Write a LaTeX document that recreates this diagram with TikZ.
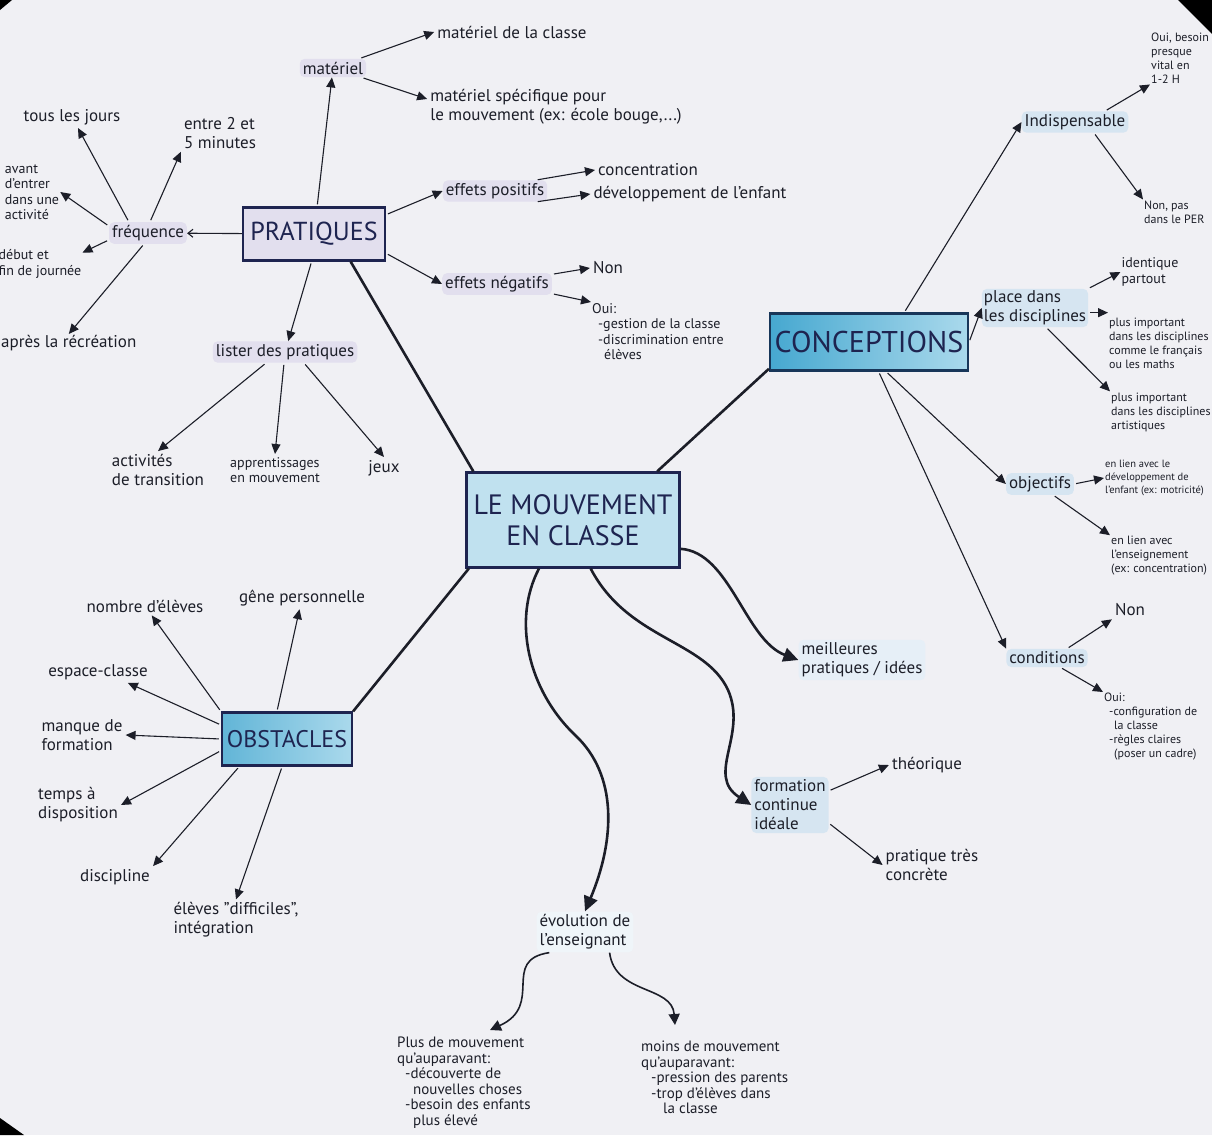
\documentclass[tikz,border=0pt]{standalone}
\usepackage{fontspec}
\setmainfont{PT Sans}
\usetikzlibrary{arrows.meta}

\definecolor{paper}{RGB}{240,240,244}
\definecolor{ink}{RGB}{28,30,40}
\definecolor{navy}{RGB}{30,36,80}
\definecolor{lavender}{RGB}{226,223,238}
\definecolor{skyhl}{RGB}{214,229,241}
\definecolor{boxblue}{RGB}{192,225,239}
\definecolor{tealdark}{RGB}{70,168,208}
\definecolor{teallight}{RGB}{170,217,236}

\begin{document}
\begin{tikzpicture}[x=1pt,y=-1pt,
    every node/.style={font=\fontsize{17}{19}\selectfont, text=ink, align=left, inner sep=3pt},
    topic/.style={draw=navy, line width=2.2pt, text=navy, align=center, inner sep=2pt},
    hl/.style={fill=lavender, rounded corners=5pt},
    hlb/.style={fill=skyhl, rounded corners=5pt},
    small/.style={font=\fontsize{14}{15.5}\selectfont},
    tiny/.style={font=\fontsize{12}{14}\selectfont},
    branch/.style={line width=2.6pt, ink},
    arr/.style={-{Triangle[length=10pt,width=9pt]}, line width=1.1pt, ink, shorten <=2pt},
    openarr/.style={{Straight Barb[length=5pt,width=8pt]}-, line width=1.1pt, ink},
    curly/.style={-{Triangle[length=15pt,width=14pt]}, line width=2.6pt, ink}]

\useasboundingbox (0,0) rectangle (1212,1135);
\fill[paper] (0,0) rectangle (1212,1135);
% photo corners
\fill[black] (0,0) -- (12,0) -- (0,10) -- cycle;
\fill[black] (1178,0) -- (1212,0) -- (1212,34) -- cycle;
\fill[black] (0,1118) -- (0,1135) -- (24,1135) -- cycle;

% main topics
\node[topic, fill=boxblue, minimum width=213pt, minimum height=95pt,
      font=\fontsize{28}{31}\selectfont] (centre) at (573,520) {LE MOUVEMENT\\EN CLASSE};
\node[topic, fill=lavender, minimum width=142pt, minimum height=53pt,
      font=\fontsize{26}{28}\selectfont] (prat) at (314,234) {PRATIQUES};
\node[topic, draw=navy!80!teal, left color=tealdark, right color=teallight,
      minimum width=198pt, minimum height=57pt,
      font=\fontsize{30}{32}\selectfont] (concep) at (869,342) {CONCEPTIONS};
\node[topic, left color=tealdark!85, right color=teallight, minimum width=130pt,
      minimum height=53pt, font=\fontsize{24}{26}\selectfont] (obst) at (287,739) {OBSTACLES};

\draw[branch] (centre.154) -- (prat.-37);
\draw[branch] (centre.30) -- (concep.195);
\draw[branch] (centre.205) -- (obst.north east);

% pratiques
\node[hl] (materiel) at (333,68) {matériel};
\node (matclasse) at (512,32) {matériel de la classe};
\node (matspec) at (556,107) {matériel spécifique pour\\le mouvement (ex: école bouge,...)};
\node[hl] (freq) at (148,233) {fréquence};
\node (tousjours) at (72,117) {tous les jours};
\node (entre) at (220,133) {entre 2 et\\5 minutes};
\node[small, inner sep=1pt] (avant) at (32,192) {avant\\d'entrer\\dans une\\activité};
\node[small, inner sep=1pt] (debut) at (40,264) {début et\\fin de journée};
\node[anchor=west, inner sep=1pt] (apres) at (0,343) {après la récréation};
\node[hl] (effpos) at (495,191) {effets positifs};
\node (concentr) at (648,170) {concentration};
\node (devel) at (690,194) {développement de l'enfant};
\node[hl] (effneg) at (497,284) {effets négatifs};
\node (nonA) at (608,268) {Non};
\node[small, anchor=north west, inner sep=1pt] (ouiA) at (591,302) {Oui:\\\hspace*{6pt}-gestion de la classe\\\hspace*{6pt}-discrimination entre\\\hspace*{12pt}élèves};
\node[hl] (lister) at (285,352) {lister des pratiques};
\node (activ) at (158,470) {activités\\de transition};
\node[small] (apprent) at (275,470) {apprentissages\\en mouvement};
\node (jeux) at (384,468) {jeux};

\draw[arr] (prat) -- (materiel);
\draw[arr] (materiel) -- (matclasse.west);
\draw[arr] (materiel) -- ([yshift=8pt]matspec.west);
\draw[openarr] (freq) -- (prat);
\draw[arr] (freq.150) -- (tousjours);
\draw[arr] (freq.80) -- (entre.south west);
\draw[arr] (freq.170) -- (avant.east);
\draw[arr] (freq.190) -- (debut.15);
\draw[arr] (freq.-110) -- (apres.north);
\draw[arr] (prat.15) -- (effpos.west);
\draw[arr] (effpos.15) -- (concentr.west);
\draw[arr] (effpos.-15) -- (devel.west);
\draw[arr] (prat.-15) -- (effneg.west);
\draw[arr] (effneg.10) -- (nonA.west);
\draw[arr] (effneg.-10) -- (ouiA.north west);
\draw[arr] (prat.-95) -- (lister);
\draw[arr] (lister.-150) -- (activ.north);
\draw[arr] (lister.-95) -- (apprent.north);
\draw[arr] (lister.-30) -- (jeux.north);

% conceptions
\node[hlb] (indisp) at (1075,122) {Indispensable};
\node[tiny, anchor=west, inner sep=1pt] (ouiB) at (1150,58) {Oui, besoin\\presque\\vital en\\1-2 H};
\node[tiny, anchor=west, inner sep=1pt] (nonB) at (1143,212) {Non, pas\\dans le PER};
\node[hlb, inner sep=2pt] (place) at (1035,308) {place dans\\les disciplines};
\node[small, inner sep=1pt] (identique) at (1150,272) {identique\\partout};
\node[tiny, anchor=west, inner sep=1pt] (plusA) at (1108,343) {plus important\\dans les disciplines\\comme le français\\ou les maths};
\node[tiny, anchor=west, inner sep=1pt] (plusB) at (1110,412) {plus important\\dans les disciplines\\artistiques};
\node[hlb] (objectifs) at (1040,484) {objectifs};
\node[anchor=west, inner sep=1pt, font=\fontsize{10.5}{13}\selectfont] (lienA) at (1104,478) {en lien avec le\\développement de\\l'enfant (ex: motricité)};
\node[tiny, anchor=west, inner sep=1pt] (lienB) at (1110,556) {en lien avec\\l'enseignement\\(ex: concentration)};
\node[hlb] (condit) at (1047,658) {conditions};
\node (nonC) at (1130,610) {Non};
\node[tiny, anchor=north west, inner sep=1pt] (ouiC) at (1103,692) {Oui:\\\hspace*{5pt}-configuration de\\\hspace*{10pt}la classe\\\hspace*{5pt}-règles claires\\\hspace*{10pt}(poser un cadre)};

\draw[arr] (concep.40) -- (indisp.west);
\draw[arr] (indisp.20) -- (ouiB.south west);
\draw[arr] (indisp.-30) -- (nonB.north west);
\draw[arr] (concep.east) -- (place.west);
\draw[arr] (place.20) -- (identique.west);
\draw[arr] (place.-5) -- (plusA.west |- place.-5);
\draw[arr] (place.-60) -- (plusB.north west);
\draw[arr] (concep.-60) -- (objectifs.west);
\draw[arr] (concep.-72) -- (condit.north west);
\draw[arr] (objectifs.east) -- (lienA.west);
\draw[arr] (objectifs.-40) -- (lienB.north west);
\draw[arr] (condit.25) -- (nonC.south west);
\draw[arr] (condit.-35) -- (ouiC.north west);

% obstacles
\node (nombre) at (145,606) {nombre d'élèves};
\node (gene) at (302,598) {gêne personnelle};
\node (espace) at (98,672) {espace-classe};
\node (manque) at (82,735) {manque de\\formation};
\node (temps) at (78,805) {temps à\\disposition};
\node (discip) at (115,877) {discipline};
\node (eleves) at (236,920) {élèves "difficiles",\\intégration};

\draw[arr] (obst.north west) -- (nombre);
\draw[arr] (obst.110) -- (gene);
\draw[arr] (obst.168) -- (espace.-20);
\draw[arr] (obst.west) -- (manque.east);
\draw[arr] (obst.190) -- (temps.east);
\draw[arr] (obst.-150) -- (discip.north east);
\draw[arr] (obst.-100) -- (eleves.north);

% bas de la carte
\node[hlb, fill=skyhl!60] (meilleures) at (862,660) {meilleures\\pratiques / idées};
\node[hlb] (formation) at (790,805) {formation\\continue\\idéale};
\node (theorique) at (927,765) {théorique};
\node (pratique) at (932,865) {pratique très\\concrète};
\node[hlb, fill=skyhl!40] (evolution) at (585,932) {évolution de\\l'enseignant};
\node[anchor=north west, inner sep=1pt, font=\fontsize{15}{15.5}\selectfont] (plus) at (396,1036)
  {Plus de mouvement\\qu'auparavant:\\\hspace*{8pt}-découverte de\\\hspace*{16pt}nouvelles choses\\\hspace*{8pt}-besoin des enfants\\\hspace*{16pt}plus élevé};
\node[anchor=north west, inner sep=1pt, font=\fontsize{15}{15.5}\selectfont] (moins) at (640,1040)
  {moins de mouvement\\qu'auparavant:\\\hspace*{10pt}-pression des parents\\\hspace*{10pt}-trop d'élèves dans\\\hspace*{22pt}la classe};

\draw[curly] (centre.-15) .. controls (730,552) and (745,640) .. (meilleures.west);
\draw[curly] (centre.-70) .. controls (628,640) and (705,640) .. (728,690)
  .. controls (748,735) and (705,775) .. (formation.west);
\draw[curly] (centre.-125) .. controls (512,620) and (528,690) .. (575,735)
  .. controls (618,775) and (615,840) .. (evolution.north);
\draw[arr] (formation.20) -- (theorique.west);
\draw[arr] (formation.-25) -- (pratique.west);
\draw[curly, line width=1.6pt, -{Triangle[length=11pt,width=11pt]}]
  (evolution.-150) .. controls (500,960) and (545,1005) .. (490,1030);
\draw[curly, line width=1.6pt, -{Triangle[length=11pt,width=11pt]}]
  (evolution.-40) .. controls (615,995) and (672,985) .. (675,1025);
\end{tikzpicture}
\end{document}
